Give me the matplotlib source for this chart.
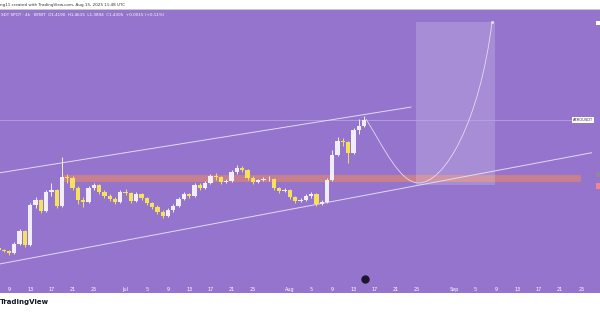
import numpy as np
import pandas as pd
import matplotlib
matplotlib.use("Agg")
import matplotlib.pyplot as plt
import matplotlib.dates as mdates
from matplotlib.path import Path
from matplotlib.patches import PathPatch, Rectangle

# daily candles, AERO/USDT
dates = pd.date_range("2025-06-07", periods=70, freq="D")
closes = [0.486, 0.479, 0.464, 0.530, 0.624, 0.523, 0.813, 0.849, 0.769, 0.907,
          0.922, 0.806, 1.016, 1.009, 0.936, 0.849, 0.835, 0.936, 0.958, 0.907,
          0.878, 0.856, 0.835, 0.907, 0.900, 0.842, 0.893, 0.864, 0.827, 0.798,
          0.762, 0.733, 0.777, 0.806, 0.856, 0.893, 0.878, 0.958, 0.936, 0.973,
          1.023, 1.015, 0.980, 0.987, 1.052, 1.082, 1.067, 1.009, 0.980, 0.994,
          1.000, 1.002, 0.936, 0.915, 0.922, 0.871, 0.842, 0.850, 0.878, 0.893,
          0.820, 0.835, 0.994, 1.176, 1.278, 1.270, 1.190, 1.357, 1.386, 1.430]
highs = [0.510, 0.495, 0.485, 0.545, 0.640, 0.630, 0.830, 0.870, 0.860, 0.925,
         0.975, 0.930, 1.161, 1.040, 1.020, 0.950, 0.870, 0.950, 0.975, 0.965,
         0.920, 0.890, 0.870, 0.920, 0.930, 0.905, 0.910, 0.900, 0.870, 0.835,
         0.810, 0.775, 0.790, 0.820, 0.870, 0.910, 0.900, 0.975, 0.970, 0.990,
         1.040, 1.045, 1.025, 1.000, 1.070, 1.100, 1.095, 1.075, 1.020, 1.005,
         1.015, 1.020, 1.010, 0.945, 0.935, 0.930, 0.880, 0.865, 0.890, 0.905,
         0.900, 0.850, 1.010, 1.210, 1.310, 1.300, 1.280, 1.370, 1.440, 1.460]
lows = [0.475, 0.468, 0.452, 0.458, 0.525, 0.505, 0.515, 0.790, 0.755, 0.760,
        0.880, 0.790, 0.800, 0.970, 0.920, 0.820, 0.800, 0.830, 0.920, 0.895,
        0.865, 0.845, 0.820, 0.830, 0.885, 0.830, 0.835, 0.850, 0.815, 0.785,
        0.750, 0.720, 0.725, 0.765, 0.800, 0.850, 0.865, 0.870, 0.920, 0.930,
        0.965, 0.995, 0.965, 0.970, 0.980, 1.040, 1.050, 0.995, 0.965, 0.975,
        0.985, 0.990, 0.925, 0.900, 0.905, 0.860, 0.830, 0.835, 0.845, 0.865,
        0.805, 0.810, 0.830, 0.990, 1.170, 1.240, 1.120, 1.180, 1.330, 1.380]
first_open = 0.500

# drawings
upper_t = ["2025-06-07 07:00", "2025-08-23 20:00"]
upper_p = [1.047, 1.524]
lower_t = ["2025-06-07 07:00", "2025-09-27 00:00"]
lower_p = [0.385, 1.193]
zone_t = ["2025-06-19 00:00", "2025-09-24 17:00"]
zone_p = [0.989, 1.031]
box_t = ["2025-08-24 19:00", "2025-09-08 17:00"]
box_p = [0.958, 2.141]
curve_t = ["2025-08-15 09:00", "2025-08-18 23:00", "2025-08-21 18:00", "2025-08-25 04:00",
           "2025-08-30 06:00", "2025-09-05 21:00", "2025-09-08 03:00"]
curve_p = [1.437, 1.212, 0.980, 0.973, 0.965, 1.430, 2.141]
last_price = 1.430

tick_dates = ["2025-06-09", "2025-06-13", "2025-06-17", "2025-06-21", "2025-06-25", "2025-07-01",
              "2025-07-05", "2025-07-09", "2025-07-13", "2025-07-17", "2025-07-21", "2025-07-25",
              "2025-08-01", "2025-08-05", "2025-08-09", "2025-08-13", "2025-08-17", "2025-08-21",
              "2025-08-25", "2025-09-01", "2025-09-05", "2025-09-09", "2025-09-13", "2025-09-17",
              "2025-09-21", "2025-09-25"]
tick_labels = ["9", "13", "17", "21", "25", "Jul", "5", "9", "13", "17", "21", "25",
               "Aug", "5", "9", "13", "17", "21", "25", "Sep", "5", "9", "13", "17", "21", "25"]

bg = "#9474CC"
up_col = "#F2EEF9"
dn_col = "#F6E15A"
line_col = "#E4DAF4"

def dn(ts):
    return mdates.date2num(pd.to_datetime(ts))

W, H = 600, 315
fig = plt.figure(figsize=(6, 3.15), dpi=100, facecolor="white")
fig.patches.append(Rectangle((0, 1 - 293 / H), 1, (293 - 10) / H, transform=fig.transFigure,
                             facecolor=bg, edgecolor="none", zorder=-10))
fig.patches.append(Rectangle((0, 1 - 10 / H), 1, 0.6 / H, transform=fig.transFigure,
                             facecolor="#c8c8c8", edgecolor="none", zorder=-10))

ax = fig.add_axes([0, 1 - 281 / H, 592 / W, (281 - 10) / H])
ax.set_facecolor(bg)
for s in ax.spines.values():
    s.set_visible(False)

x0 = dn("2025-06-09")
ax.set_xlim(x0 - 9 / 5.3, x0 + 583 / 5.3)
ax.set_ylim(0.261, 2.229)

# candles
x = mdates.date2num(dates)
opens = [first_open] + closes[:-1]
for xi, o, h, l, c in zip(x, opens, highs, lows, closes):
    col = up_col if c >= o else dn_col
    ax.vlines(xi, l, h, color=col, lw=0.7, zorder=3)
    ax.bar(xi, abs(c - o) if abs(c - o) > 0.004 else 0.004, bottom=min(o, c), width=0.8,
           color=col, edgecolor="none", zorder=4)

# channel
ax.plot([dn(t) for t in upper_t], upper_p, color=line_col, lw=0.7, zorder=2)
ax.plot([dn(t) for t in lower_t], lower_p, color=line_col, lw=0.7, zorder=2)

# support zone
ax.add_patch(Rectangle((dn(zone_t[0]), zone_p[0]), dn(zone_t[1]) - dn(zone_t[0]),
                       zone_p[1] - zone_p[0], facecolor="#F08A5D", alpha=0.55,
                       edgecolor="#E8875C", lw=0.6, zorder=1))

# projection box
ax.add_patch(Rectangle((dn(box_t[0]), box_p[0]), dn(box_t[1]) - dn(box_t[0]),
                       box_p[1] - box_p[0], facecolor="white", alpha=0.18,
                       edgecolor="none", zorder=1))

# projected path
pts = list(zip([dn(t) for t in curve_t], curve_p))
codes = [Path.MOVETO] + [Path.CURVE4] * 6
ax.add_patch(PathPatch(Path(pts, codes), facecolor="none", edgecolor=line_col, lw=0.6, zorder=2))
ax.plot(pts[-1][0], pts[-1][1], marker="o", ms=1.2, color=line_col, zorder=3)

# last price line + label
ax.axhline(last_price, color="#B7A2DE", lw=0.6, zorder=1)
ax.text(0.985, last_price, "AEROUSDT", transform=ax.get_yaxis_transform(), fontsize=2.6,
        color="#333333", ha="center", va="center",
        bbox=dict(boxstyle="square,pad=0.25", fc="white", ec="none"), zorder=6)

# time scale
ax.set_xticks([dn(t) for t in tick_dates])
ax.set_xticklabels(tick_labels)
ax.tick_params(axis="x", length=0, labelsize=3.5, labelcolor="white", pad=4)
ax.set_yticks([])

# replay icon
ax.plot(0.617, 0.008, transform=ax.transAxes, marker="o", ms=5, color="#1c1430",
        clip_on=False, zorder=7)

# clipped price-scale labels on the right edge
for yy, hh, c in [(21, 4, "white"), (172, 5, "#8a8a99"), (183, 6, "#F0868A")]:
    fig.patches.append(Rectangle((596 / W, 1 - (yy + hh) / H), 4 / W, hh / H,
                                 transform=fig.transFigure, facecolor=c, edgecolor="none"))

fig.text(0.0, 1 - 5 / H, "ng11 created with TradingView.com, Aug 15, 2025 11:48 UTC",
         fontsize=3, color="#333333", va="center", ha="left")
fig.text(0.002, 1 - 15 / H,
         "SDT SPOT \u00b7 4h \u00b7 BYBIT  O1.4190  H1.4615  L1.3894  C1.4305  +0.0015 (+0.11%)",
         fontsize=3, color="white", va="center", ha="left")
fig.text(0.0, 1 - 302 / H, "TradingView", fontsize=5, fontweight="bold", color="#131722",
         va="center", ha="left")

fig.savefig("out.png", dpi=100, facecolor="white")
